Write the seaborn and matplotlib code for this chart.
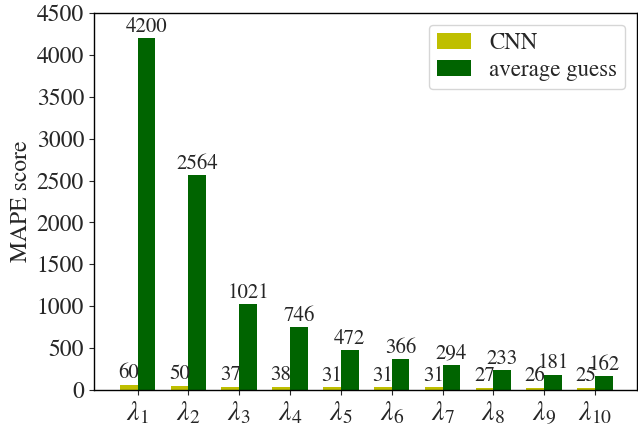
import matplotlib
matplotlib.use("Agg")
import matplotlib.pyplot as plt
from matplotlib.ticker import MultipleLocator
import seaborn as sns
import pandas as pd

categories = [r"$\lambda_{%d}$" % i for i in range(1, 11)]
cnn = [60, 50, 37, 38, 31, 31, 31, 27, 26, 25]
avg_guess = [4200, 2564, 1021, 746, 472, 366, 294, 233, 181, 162]
series_names = ["CNN", "average guess"]
colors = ["#bfbf00", "#006400"]

sns.set_style("ticks")
plt.rcParams["font.family"] = ["STIXGeneral", "DejaVu Serif"]
plt.rcParams["mathtext.fontset"] = "stix"

df = pd.DataFrame({
    "param": categories * 2,
    "value": cnn + avg_guess,
    "model": [series_names[0]] * 10 + [series_names[1]] * 10,
})

fig, ax = plt.subplots(figsize=(6.38, 4.38), dpi=100)
sns.barplot(data=df, x="param", y="value", hue="model", palette=colors,
            width=0.7, saturation=1, ax=ax, legend=True, linewidth=0)

for cont in ax.containers:
    ax.bar_label(cont, fontsize=15, padding=1)

ax.set_ylim(0, 4500)
ax.set_xlim(-0.86, 9.82)
ax.yaxis.set_major_locator(MultipleLocator(500))
ax.set_ylabel("MAPE score", fontsize=17, labelpad=3)
ax.set_xlabel("")
ax.tick_params(axis="y", labelsize=17)
ax.tick_params(axis="x", labelsize=20)
for s in ax.spines.values():
    s.set_visible(True)
    s.set_linewidth(1.0)
    s.set_color("black")
leg = ax.legend(fontsize=16.5, loc="upper right", title=None, frameon=True,
                handlelength=1.5, borderaxespad=0.5, labelspacing=0.25,
                borderpad=0.35)
fig.subplots_adjust(left=0.147, right=0.998, top=0.970, bottom=0.11)
fig.savefig("out.png", dpi=100)
